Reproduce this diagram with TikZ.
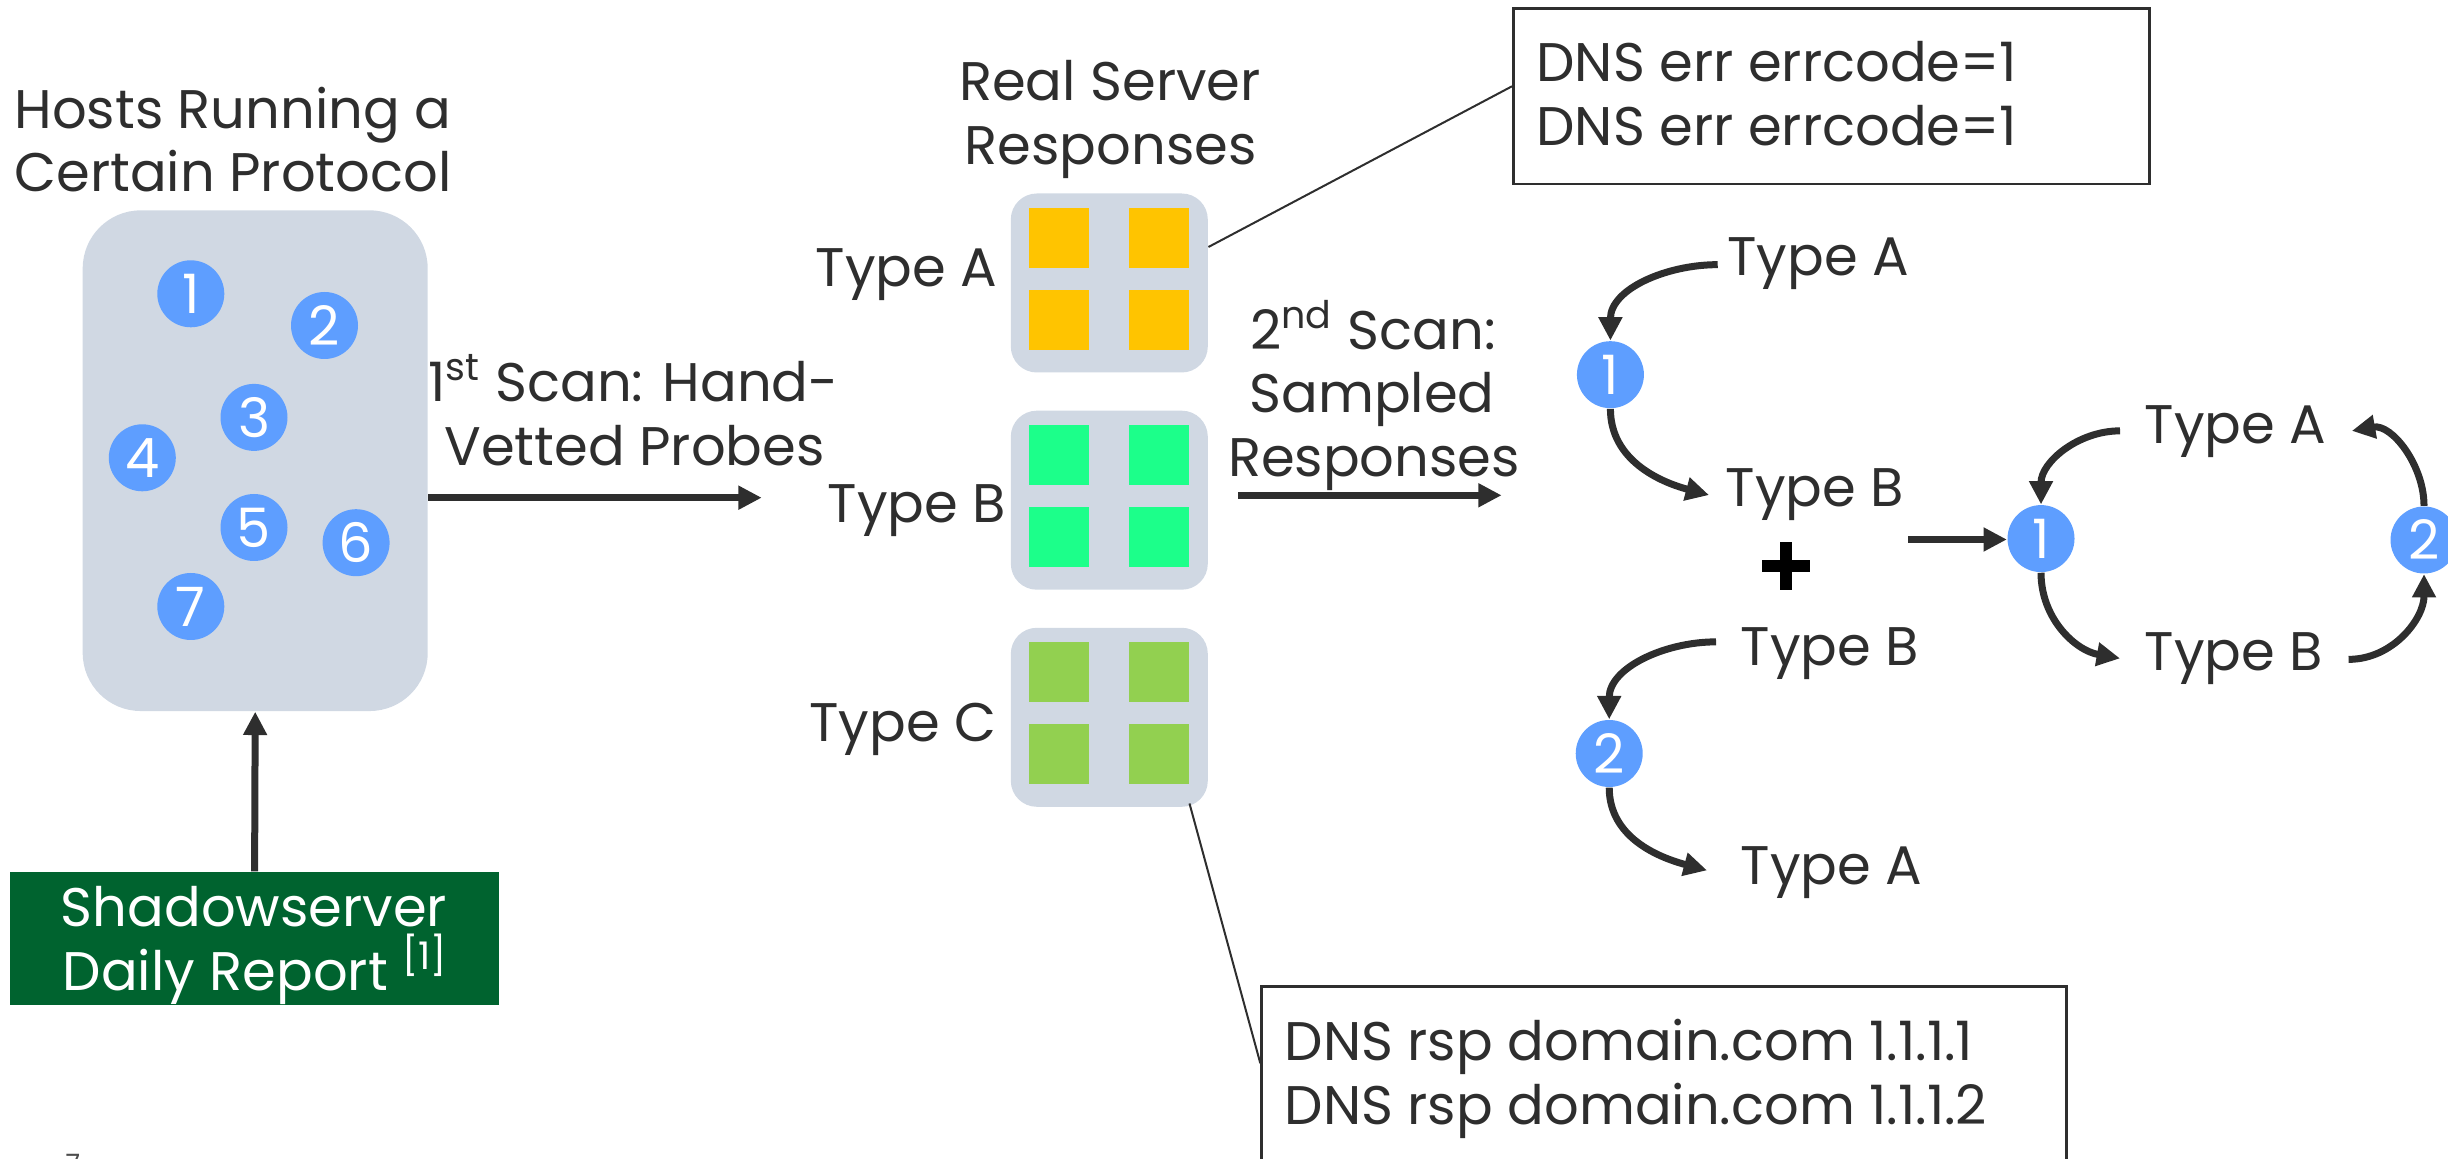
\documentclass[tikz,border=0pt]{standalone}
\usepackage{fontspec}
\setmainfont{Poppins}
\usetikzlibrary{arrows.meta,calc}

\definecolor{ink}{HTML}{2E2E2E}
\definecolor{panel}{HTML}{D0D8E3}
\definecolor{hostblue}{HTML}{5E9EFF}
\definecolor{respA}{HTML}{FFC400}
\definecolor{respB}{HTML}{1CFF8A}
\definecolor{respC}{HTML}{92D050}
\definecolor{feedgreen}{HTML}{00632F}

\begin{document}
\begin{tikzpicture}[x=0.3pt,y=-0.3pt,
  every node/.style={font=\fontsize{16.3}{19}\selectfont, text=ink},
  lbl/.style={inner sep=0},
  host/.style={circle, fill=hostblue, minimum size=20.1pt, inner sep=0, text=white},
  panelbox/.style={fill=panel, rounded corners=7.8pt, inner sep=0},
  tile/.style={minimum width=18pt, minimum height=18pt, inner sep=0},
  flow/.style={draw=ink, line width=2.1pt, -{Triangle[length=7pt,width=6.8pt]}},
  leader/.style={draw=ink, line width=0.6pt},
  note/.style={draw=ink, line width=0.8pt, inner sep=0, fill=white},
]
\useasboundingbox (0,0) rectangle (2448,1159);
\clip (0,0) rectangle (2448,1159);

% ---- hosts running the protocol ----
\node[lbl, anchor=base] (hostsA) at (233,128.6) {Hosts Running a};
\node[lbl, anchor=base] (hostsB) at (233,192) {Certain Protocol};
\node[panelbox, rounded corners=17.4pt, minimum width=103.5pt, minimum height=150.2pt] (hostbox) at (255.2,460.7) {};
\foreach \n/\x/\y in {1/190.8/293.8, 2/324.5/325.5, 3/254/417.4, 4/142.3/457.8,
                      5/254/527.5, 6/356.1/542.7, 7/190.8/606.5}
  \node[host] (h\n) at (\x,\y) {\n};

% ---- daily report feeding the host list ----
\node[fill=feedgreen, minimum width=146.7pt, minimum height=39.9pt, inner sep=0] (feed) at (254.6,938.5) {};
\node[lbl, anchor=base, text=white] (feedA) at (254,926) {Shadowserver};
\node[lbl, anchor=base, text=white] (feedB) at (255.5,990) {Daily Report \textsuperscript{[1]}};
\draw[flow] (feed.north) -- (hostbox.south);

\node[lbl, anchor=base west, font=\fontsize{8}{10}\selectfont, text=ink!85] (pagenum) at (65,1173) {7};

% ---- first scan ----
\node[lbl, anchor=base] (scan1a) at (633.5,401.7) {1\textsuperscript{st} Scan: Hand-};
\node[lbl, anchor=base] (scan1b) at (634.5,466) {Vetted Probes};
\coordinate (scan1end) at (761.7,497.7);
\draw[flow] (hostbox.east |- scan1end) -- (scan1end);

% ---- real server responses, grouped by type ----
\node[lbl, anchor=base] (realA) at (1110,100.4) {Real Server};
\node[lbl, anchor=base] (realB) at (1110.6,164.7) {Responses};
\foreach \name/\y/\col/\lab/\lx/\ly in {boxA/283/respA/Type A/998/286.6,
                                        boxB/500.2/respB/Type B/1006.8/523,
                                        boxC/717.3/respC/Type C/997/741.6} {
  \node[panelbox, minimum width=59.1pt, minimum height=53.7pt] (\name) at (1109.3,\y) {};
  \node[tile, fill=\col] (\name-tl) at (1059.3,\y-45.3) {};
  \node[tile, fill=\col] (\name-tr) at (1159.3,\y-45.3) {};
  \node[tile, fill=\col] (\name-bl) at (1059.3,\y+37) {};
  \node[tile, fill=\col] (\name-br) at (1159.3,\y+37) {};
  \node[lbl, anchor=base east] (\name-lab) at (\lx,\ly) {\lab};
}

% ---- example payloads ----
\node[note, anchor=north west, minimum width=190.8pt, minimum height=52.6pt] (errbox) at (1512,7.3) {};
\node[lbl, anchor=base west] (err1) at (1535.8,81.7) {DNS err errcode=1};
\node[lbl, anchor=base west] (err2) at (1535.8,145.7) {DNS err errcode=1};
\draw[leader] ($(boxA.east)+(0,-36)$) -- ($(errbox.west)+(0,-10)$);

\node[note, anchor=north west, minimum width=241.5pt, minimum height=80pt] (rspbox) at (1260.3,985.3) {};
\node[lbl, anchor=base west] (rsp1) at (1284,1060) {DNS rsp domain.com 1.1.1.1};
\node[lbl, anchor=base west] (rsp2) at (1284,1124) {DNS rsp domain.com 1.1.1.2};
\draw[leader] ($(boxC.south east)+(-19,-4)$) -- ($(rspbox.north west)+(0,78)$);

% ---- second scan ----
\node[lbl, anchor=base] (scan2a) at (1373,349.4) {2\textsuperscript{nd} Scan:};
\node[lbl, anchor=base] (scan2b) at (1372,413) {Sampled};
\node[lbl, anchor=base] (scan2c) at (1374,477) {Responses};
\coordinate (scan2start) at (1238,495.3);
\coordinate (scan2end) at (1501.6,495.3);
\draw[flow] (scan2start) -- (scan2end);

% ---- sampled transitions ----
\node[host] (c1) at (1610.4,374.7) {1};
\node[lbl, anchor=base west] (tA1) at (1726.7,275.8) {Type A};
\node[lbl, anchor=base west] (tB1) at (1725,506.2) {Type B};
\draw[flow] ($(tA1.mid west)+(-9,-2)$) to[out=180,in=90] (c1.north);
\draw[flow] (c1.south) to[out=-90,in=165] ($(tB1.mid west)+(-16,-2)$);

\node[inner sep=0, minimum size=14.4pt] (plus) at (1786,566) {};
\fill[black] ($(plus.center)+(-24,-6.2)$) rectangle ($(plus.center)+(24,6.2)$);
\fill[black] ($(plus.center)+(-6.3,-24)$) rectangle ($(plus.center)+(6.3,24)$);

\node[host] (c2) at (1609.2,753.5) {2};
\node[lbl, anchor=base west] (tB2) at (1740,666) {Type B};
\node[lbl, anchor=base west] (tA2) at (1740,884.5) {Type A};
\draw[flow] ($(tB2.mid west)+(-24,-15)$) to[out=180,in=90] (c2.north);
\draw[flow] (c2.south) to[out=-90,in=165] ($(tA2.mid west)+(-33,-5)$);

% ---- merged state machine ----
\node[host] (rc1) at (2041,538.6) {1};
\node[host] (rc2) at (2424,540) {2};
\node[lbl, anchor=base west] (rA) at (2144,444) {Type A};
\node[lbl, anchor=base west] (rB) at (2144,670.5) {Type B};
\coordinate (mergestart) at (1908,539.5);
\draw[flow] (mergestart) -- (mergestart -| rc1.west);
\draw[flow] ($(rA.mid west)+(-24,-4)$) to[out=180,in=90] (rc1.north);
\draw[flow] (rc1.south) to[out=-90,in=170] ($(rB.mid west)+(-24,-3)$);
\draw[flow] ($(rB.mid east)+(25,-2)$) to[out=0,in=-90] (rc2.south);
\draw[flow] (rc2.north) to[out=90,in=10] ($(rA.mid east)+(25,-4)$);
\end{tikzpicture}
\end{document}
